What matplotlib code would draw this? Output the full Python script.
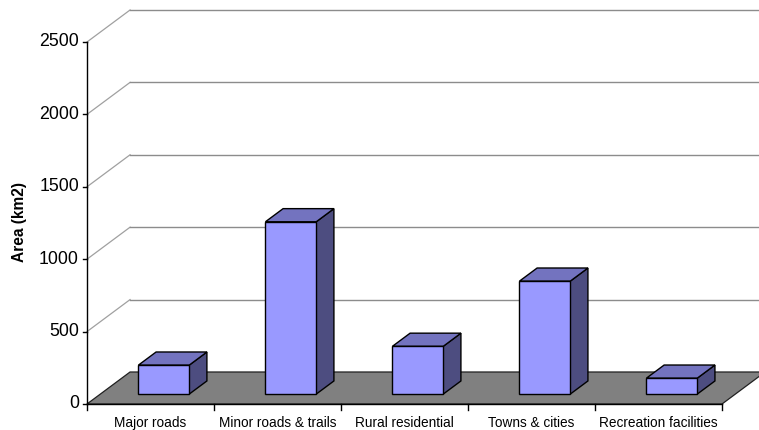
import matplotlib
matplotlib.use("Agg")
import matplotlib.pyplot as plt
from matplotlib.patches import Polygon

plt.rcParams['font.family'] = ['Liberation Sans', 'DejaVu Sans']

categories = ["Major roads", "Minor roads & trails", "Rural residential",
              "Towns & cities", "Recreation facilities"]
area = [200, 1190, 330, 780, 110]
yticks = [0, 500, 1000, 1500, 2000, 2500]

# oblique depth offset (full depth) in data units: x in categories, y in km2
DX = 0.339
DY = 221
BAR_W = 0.4
D0, D1 = 0.31, 0.72


def proj(x, v, d):
    return (x + d * DX, v + d * DY)


fig = plt.figure(figsize=(7.59, 4.30), dpi=100)
ax = fig.add_axes([0, 0, 1, 1])
ax.set_xlim(-0.685, 5.291)
ax.set_ylim(-179.6, 2790)
ax.axis('off')

n = len(categories)
xmax = n + 1.0

# walls: gridlines on side wall and back wall
for v in yticks:
    x0, y0 = proj(0, v, 0)
    x1, y1 = proj(0, v, 1)
    if v > 0:
        ax.plot([x0, x1], [y0, y1], color='#a0a0a0', lw=0.9, zorder=1)
        ax.plot([x1, xmax], [y1, y1], color='#8c8c8c', lw=1.0, zorder=1)

# floor
floor = [proj(0, 0, 0), proj(0, 0, 1), proj(n, 0, 1), proj(n, 0, 0)]
ax.add_patch(Polygon(floor, closed=True, facecolor='#808080',
                     edgecolor='#202020', lw=0.9, zorder=2))

# bars
for i, val in enumerate(area):
    xl = i + 0.5 - BAR_W / 2
    xr = i + 0.5 + BAR_W / 2
    front = [proj(xl, 0, D0), proj(xr, 0, D0), proj(xr, val, D0), proj(xl, val, D0)]
    top = [proj(xl, val, D0), proj(xr, val, D0), proj(xr, val, D1), proj(xl, val, D1)]
    side = [proj(xr, 0, D0), proj(xr, 0, D1), proj(xr, val, D1), proj(xr, val, D0)]
    kw = dict(closed=True, edgecolor='black', lw=1.0, zorder=3, joinstyle='miter')
    ax.add_patch(Polygon(side, facecolor='#4d4d80', **kw))
    ax.add_patch(Polygon(top, facecolor='#7373bf', **kw))
    ax.add_patch(Polygon(front, facecolor='#9999ff', **kw))

# value axis
ax.plot([0, 0], [0, yticks[-1]], color='black', lw=1.0, zorder=4)
for v in yticks:
    ax.plot([-0.031, 0], [v, v], color='black', lw=1.0, zorder=4)
    ax.text(-0.063, v, str(v), ha='right', va='center', fontsize=12.8)

# category axis
ax.plot([0, n], [0, 0], color='black', lw=1.0, zorder=4)
for i in range(n + 1):
    ax.plot([i, i], [0, -40], color='black', lw=1.0, zorder=4)
for i, c in enumerate(categories):
    ax.text(i + 0.5, -128, c, ha='center', va='center', fontsize=9.8)

ax.text(-0.528, 1257, "Area (km2)", rotation=90, ha='center', va='center',
        fontsize=11.2, fontweight='bold')

fig.savefig("out.png", dpi=100)
